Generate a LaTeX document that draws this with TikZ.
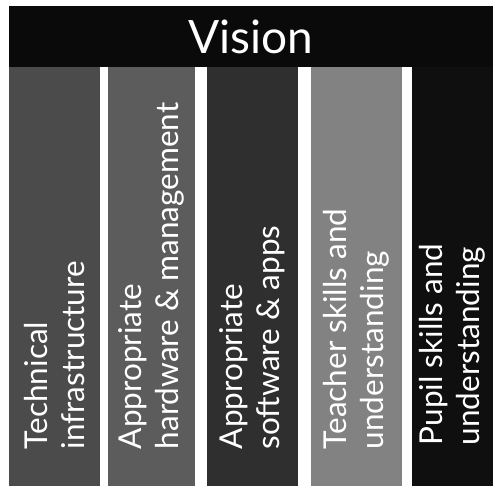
\documentclass[tikz,border=0pt]{standalone}
\usepackage{fontspec}
\setmainfont{Lato}
\usetikzlibrary{positioning}
\definecolor{xBar}{RGB}{10,10,10}
\definecolor{xTech}{RGB}{75,75,75}
\definecolor{xHard}{RGB}{92,92,92}
\definecolor{xSoft}{RGB}{47,47,47}
\definecolor{xTeach}{RGB}{130,130,130}
\definecolor{xPupil}{RGB}{15,15,15}
\tikzset{
  banner/.style={fill=xBar, text=white, inner sep=0pt, anchor=north west,
                 minimum width=484pt, minimum height=61pt, font=\fontsize{46}{50}\selectfont},
  pillar/.style={inner sep=0pt, anchor=north west, minimum height=419pt},
  pillartext/.style={rotate=90, anchor=west, align=left, text=white, inner sep=0pt,
                     font=\fontsize{31.5}{37}\selectfont},
}

\begin{document}
\begin{tikzpicture}[x=1pt, y=-1pt]
  \useasboundingbox[fill=white] (0,0) rectangle (493,487);
  % top bar
  \node[banner] (vision) at (9,6) {Vision};
  % the five columns
  \node[pillar, fill=xTech,  minimum width=91pt] (tech)  at (9,67)   {};
  \node[pillar, fill=xHard,  minimum width=87pt] (hard)  at (108,67) {};
  \node[pillar, fill=xSoft,  minimum width=91pt] (soft)  at (207,67) {};
  \node[pillar, fill=xTeach, minimum width=91pt] (teach) at (311,67) {};
  \node[pillar, fill=xPupil, minimum width=81pt] (pupil) at (412,67) {};
  % labels, read bottom to top
  \node[pillartext] (techlbl)  at ([yshift=37pt]tech.south)  {Technical\\infrastructure};
  \node[pillartext] (hardlbl)  at ([yshift=37pt]hard.south)  {Appropriate\\hardware \& management};
  \node[pillartext] (softlbl)  at ([yshift=37pt]soft.south)  {Appropriate\\software \& apps};
  \node[pillartext] (teachlbl) at ([yshift=37pt]teach.south) {Teacher skills and\\understanding};
  \node[pillartext] (pupillbl) at ([yshift=41pt]pupil.south) {Pupil skills and\\understanding};
\end{tikzpicture}
\end{document}
